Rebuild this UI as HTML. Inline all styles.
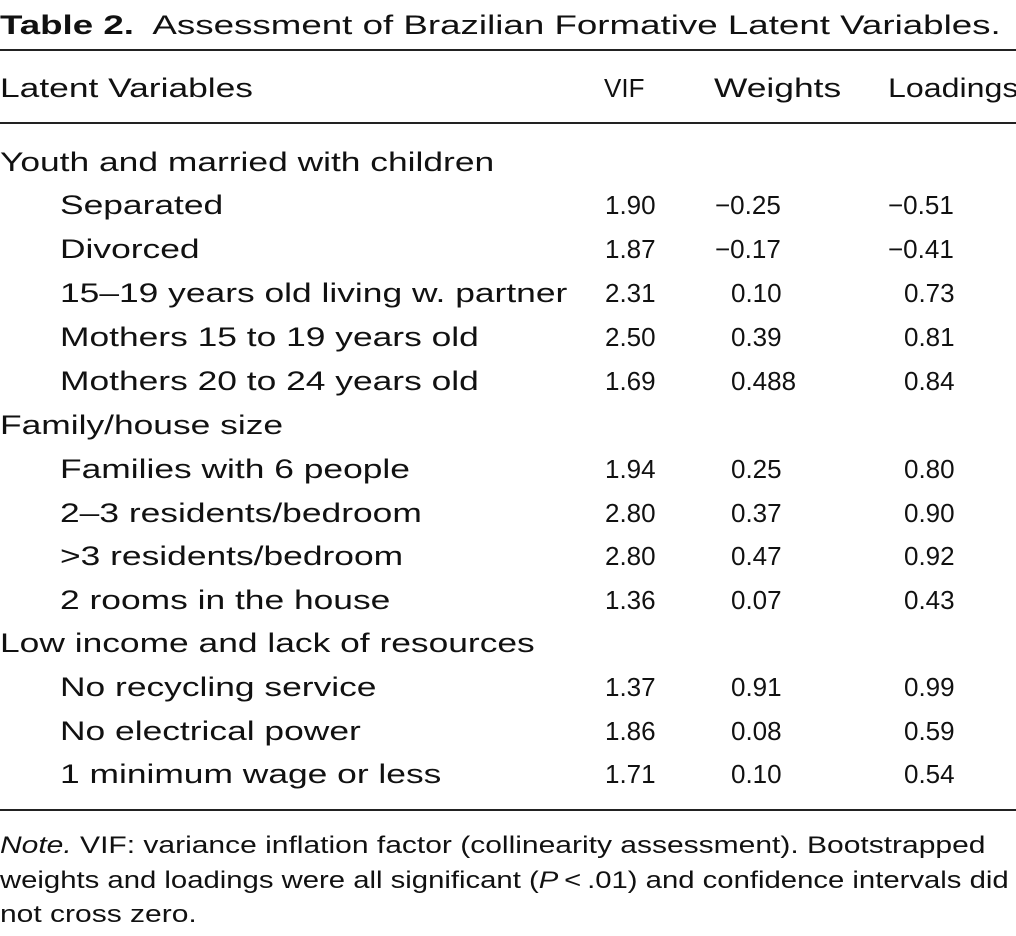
<!DOCTYPE html>
<html><head><meta charset="utf-8"><style>
body{margin:0;background:#fff;width:1016px;height:936px;overflow:hidden;position:relative;font-family:"Liberation Sans",sans-serif;color:#111;font-size:27px}
.t{position:absolute;white-space:nowrap;line-height:30px}
.s{transform:scaleX(1.31);transform-origin:0 50%}
.n{font-size:26px}
.hl{position:absolute;left:0;width:1016px;height:2px;background:#222}
</style></head><body>
<div class="t s" style="left:0;top:10px;transform:scaleX(1.36)"><b>Table 2.</b>&nbsp; Assessment of Brazilian Formative Latent Variables.</div>
<div class="hl" style="top:49px"></div>
<div class="t s" style="left:0;top:73px">Latent Variables</div>
<div class="t n" style="left:604px;top:73px;transform:scaleX(1.0)">VIF</div>
<div class="t s" style="left:714px;top:73px">Weights</div>
<div class="t s" style="left:888px;top:73px;transform:scaleX(1.19)">Loadings</div>
<div class="hl" style="top:122px"></div>

<div class="t s" style="left:0;top:147px">Youth and married with children</div>
<div class="t s" style="left:60px;top:190px">Separated</div><div class="t n" style="left:605px;top:190px">1.90</div><div class="t n" style="left:715px;top:190px">−0.25</div><div class="t n" style="left:888px;top:190px">−0.51</div>
<div class="t s" style="left:60px;top:234px">Divorced</div><div class="t n" style="left:605px;top:234px">1.87</div><div class="t n" style="left:715px;top:234px">−0.17</div><div class="t n" style="left:888px;top:234px">−0.41</div>
<div class="t s" style="left:60px;top:278px">15–19 years old living w. partner</div><div class="t n" style="left:605px;top:278px">2.31</div><div class="t n" style="left:731px;top:278px">0.10</div><div class="t n" style="left:904px;top:278px">0.73</div>
<div class="t s" style="left:60px;top:322px">Mothers 15 to 19 years old</div><div class="t n" style="left:605px;top:322px">2.50</div><div class="t n" style="left:731px;top:322px">0.39</div><div class="t n" style="left:904px;top:322px">0.81</div>
<div class="t s" style="left:60px;top:366px">Mothers 20 to 24 years old</div><div class="t n" style="left:605px;top:366px">1.69</div><div class="t n" style="left:731px;top:366px">0.488</div><div class="t n" style="left:904px;top:366px">0.84</div>
<div class="t s" style="left:0;top:410px">Family/house size</div>
<div class="t s" style="left:60px;top:454px">Families with 6 people</div><div class="t n" style="left:605px;top:454px">1.94</div><div class="t n" style="left:731px;top:454px">0.25</div><div class="t n" style="left:904px;top:454px">0.80</div>
<div class="t s" style="left:60px;top:498px">2–3 residents/bedroom</div><div class="t n" style="left:605px;top:498px">2.80</div><div class="t n" style="left:731px;top:498px">0.37</div><div class="t n" style="left:904px;top:498px">0.90</div>
<div class="t s" style="left:60px;top:541px">&gt;3 residents/bedroom</div><div class="t n" style="left:605px;top:541px">2.80</div><div class="t n" style="left:731px;top:541px">0.47</div><div class="t n" style="left:904px;top:541px">0.92</div>
<div class="t s" style="left:60px;top:585px">2 rooms in the house</div><div class="t n" style="left:605px;top:585px">1.36</div><div class="t n" style="left:731px;top:585px">0.07</div><div class="t n" style="left:904px;top:585px">0.43</div>
<div class="t s" style="left:0;top:628px">Low income and lack of resources</div>
<div class="t s" style="left:60px;top:672px">No recycling service</div><div class="t n" style="left:605px;top:672px">1.37</div><div class="t n" style="left:731px;top:672px">0.91</div><div class="t n" style="left:904px;top:672px">0.99</div>
<div class="t s" style="left:60px;top:716px">No electrical power</div><div class="t n" style="left:605px;top:716px">1.86</div><div class="t n" style="left:731px;top:716px">0.08</div><div class="t n" style="left:904px;top:716px">0.59</div>
<div class="t s" style="left:60px;top:759px">1 minimum wage or less</div><div class="t n" style="left:605px;top:759px">1.71</div><div class="t n" style="left:731px;top:759px">0.10</div><div class="t n" style="left:904px;top:759px">0.54</div>
<div class="hl" style="top:809px"></div>
<div class="t" style="left:0;top:831px;font-size:24px;transform:scaleX(1.25);transform-origin:0 50%"><i>Note.</i> VIF: variance inflation factor (collinearity assessment). Bootstrapped</div>
<div class="t" style="left:0;top:866px;font-size:24px;transform:scaleX(1.22);transform-origin:0 50%">weights and loadings were all significant (<i>P</i>&thinsp;&lt;&thinsp;.01) and confidence intervals did</div>
<div class="t" style="left:0;top:900px;font-size:24px;transform:scaleX(1.25);transform-origin:0 50%">not cross zero.</div>
</body></html>
